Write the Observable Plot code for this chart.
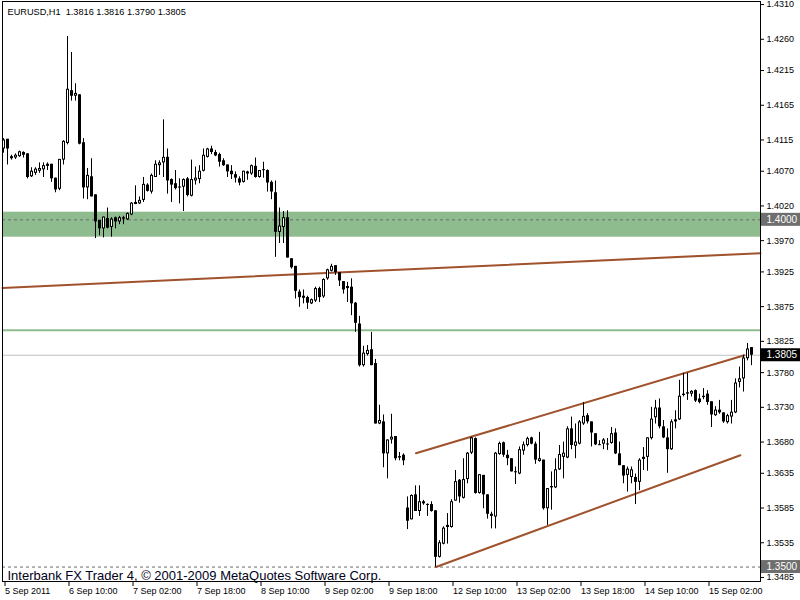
<!DOCTYPE html>
<html>
<head>
<meta charset="utf-8">
<script src="https://cdn.jsdelivr.net/npm/d3@7"></script>
<script src="https://cdn.jsdelivr.net/npm/@observablehq/plot@0.6"></script>
<style>
  html, body { margin: 0; padding: 0; background: #ffffff; }
  #chart { width: 800px; height: 600px; }
</style>
</head>
<body>
<div id="chart"></div>
<script>
// ---------- data (EURUSD H1) ----------
const symbol = "EURUSD,H1";
const copyright = "Interbank FX Trader 4, \u00A9 2001-2009 MetaQuotes Software Corp.";

const open = [
1.4102,1.4116,1.4091,1.4089,1.4091,1.4097,1.4095,1.4062,1.4067,1.4070,
1.4072,1.4080,1.4080,1.4060,1.4044,1.4086,1.4110,1.4186,1.4178,1.4180,
1.4111,1.4046,1.4062,1.4036,1.3999,1.3987,1.4002,1.3989,1.4003,1.3997,
1.4003,1.4000,1.4007,1.4022,1.4023,1.4028,1.4050,1.4040,1.4061,1.4078,
1.4082,1.4090,1.4058,1.4052,1.4047,1.4047,1.4059,1.4034,1.4056,1.4058,
1.4070,1.4090,1.4102,1.4097,1.4094,1.4085,1.4079,1.4070,1.4065,1.4059,
1.4054,1.4066,1.4066,1.4077,1.4061,1.4072,1.4071,1.4054,1.4039,1.3982,
1.3989,1.4003,1.3944,1.3933,1.3896,1.3890,1.3888,1.3879,1.3883,1.3901,
1.3889,1.3915,1.3926,1.3934,1.3924,1.3911,1.3901,1.3903,1.3880,1.3850,
1.3790,1.3806,1.3813,1.3793,1.3706,1.3709,1.3663,1.3683,1.3688,1.3659,
1.3661,1.3585,1.3568,1.3604,1.3580,1.3594,1.3590,1.3590,1.3581,1.3514,
1.3533,1.3557,1.3557,1.3595,1.3625,1.3599,1.3626,1.3664,1.3685,1.3606,
1.3632,1.3604,1.3576,1.3572,1.3662,1.3679,1.3661,1.3656,1.3637,1.3634,
1.3667,1.3675,1.3686,1.3677,1.3652,1.3654,1.3584,1.3614,1.3614,1.3640,
1.3658,1.3657,1.3699,1.3674,1.3677,1.3706,1.3718,1.3709,1.3692,1.3676,
1.3677,1.3677,1.3678,1.3693,1.3663,1.3646,1.3632,1.3629,1.3629,1.3622,
1.3655,1.3658,1.3685,1.3715,1.3729,1.3702,1.3686,1.3669,1.3709,1.3712,
1.3747,1.3751,1.3749,1.3754,1.3742,1.3746,1.3749,1.3738,1.3718,1.3726,
1.3722,1.3708,1.3716,1.3722,1.3766,1.3771,1.3800,1.3816];

const high = [
1.4117,1.4116,1.4093,1.4095,1.4099,1.4098,1.4095,1.4075,1.4075,1.4082,
1.4082,1.4082,1.4080,1.4060,1.4087,1.4114,1.4264,1.4241,1.4196,1.4180,
1.4117,1.4074,1.4088,1.4036,1.3999,1.4004,1.4017,1.4003,1.4004,1.4005,
1.4005,1.4010,1.4025,1.4049,1.4033,1.4061,1.4052,1.4066,1.4085,1.4085,
1.4144,1.4102,1.4059,1.4071,1.4059,1.4059,1.4061,1.4086,1.4076,1.4078,
1.4102,1.4103,1.4106,1.4100,1.4096,1.4088,1.4079,1.4078,1.4069,1.4062,
1.4070,1.4070,1.4079,1.4089,1.4071,1.4083,1.4072,1.4056,1.4056,1.4017,
1.4012,1.4013,1.3944,1.3933,1.3899,1.3899,1.3890,1.3886,1.3903,1.3903,
1.3915,1.3929,1.3936,1.3934,1.3924,1.3911,1.3910,1.3915,1.3881,1.3861,
1.3818,1.3819,1.3838,1.3799,1.3733,1.3719,1.3683,1.3720,1.3688,1.3665,
1.3663,1.3601,1.3604,1.3617,1.3617,1.3596,1.3591,1.3594,1.3581,1.3538,
1.3558,1.3577,1.3597,1.3639,1.3626,1.3656,1.3665,1.3687,1.3686,1.3633,
1.3632,1.3604,1.3579,1.3665,1.3680,1.3680,1.3668,1.3656,1.3644,1.3673,
1.3680,1.3687,1.3687,1.3680,1.3694,1.3654,1.3613,1.3637,1.3656,1.3675,
1.3680,1.3702,1.3716,1.3706,1.3711,1.3737,1.3721,1.3709,1.3692,1.3682,
1.3685,1.3685,1.3701,1.3699,1.3680,1.3646,1.3644,1.3644,1.3634,1.3656,
1.3672,1.3686,1.3730,1.3740,1.3742,1.3711,1.3699,1.3712,1.3725,1.3769,
1.3779,1.3779,1.3754,1.3755,1.3749,1.3757,1.3754,1.3738,1.3731,1.3740,
1.3722,1.3720,1.3740,1.3771,1.3788,1.3805,1.3822,1.3816];

const low = [
1.4096,1.4079,1.4086,1.4087,1.4090,1.4089,1.4059,1.4061,1.4064,1.4067,
1.4061,1.4071,1.4054,1.4039,1.4042,1.4079,1.4108,1.4171,1.4171,1.4108,
1.4030,1.4029,1.4033,1.3973,1.3977,1.3974,1.3987,1.3975,1.3987,1.3993,
1.3993,1.3999,1.4006,1.4022,1.4022,1.4025,1.4040,1.4037,1.4061,1.4064,
1.4061,1.4037,1.4025,1.4043,1.4023,1.4012,1.4033,1.4033,1.4050,1.4052,
1.4069,1.4089,1.4094,1.4091,1.4076,1.4077,1.4061,1.4058,1.4053,1.4049,
1.4053,1.4057,1.4064,1.4060,1.4060,1.4060,1.4040,1.4029,1.3946,1.3966,
1.3966,1.3945,1.3929,1.3886,1.3874,1.3879,1.3871,1.3878,1.3881,1.3881,
1.3887,1.3913,1.3925,1.3920,1.3904,1.3893,1.3881,1.3862,1.3838,1.3788,
1.3788,1.3804,1.3790,1.3706,1.3705,1.3643,1.3627,1.3677,1.3653,1.3653,
1.3646,1.3554,1.3568,1.3580,1.3573,1.3589,1.3573,1.3579,1.3500,1.3513,
1.3532,1.3533,1.3556,1.3595,1.3592,1.3598,1.3620,1.3662,1.3605,1.3605,
1.3584,1.3569,1.3555,1.3555,1.3661,1.3658,1.3646,1.3637,1.3619,1.3633,
1.3661,1.3673,1.3676,1.3648,1.3651,1.3582,1.3560,1.3582,1.3613,1.3639,
1.3627,1.3656,1.3669,1.3656,1.3676,1.3704,1.3706,1.3673,1.3675,1.3675,
1.3669,1.3668,1.3677,1.3662,1.3646,1.3620,1.3608,1.3620,1.3590,1.3610,
1.3639,1.3638,1.3683,1.3706,1.3699,1.3685,1.3635,1.3668,1.3699,1.3711,
1.3745,1.3740,1.3745,1.3737,1.3735,1.3741,1.3733,1.3701,1.3717,1.3720,
1.3707,1.3706,1.3706,1.3721,1.3758,1.3752,1.3797,1.3790];

const close = [
1.4115,1.4102,1.4088,1.4093,1.4098,1.4093,1.4061,1.4070,1.4073,1.4074,
1.4078,1.4077,1.4059,1.4043,1.4087,1.4113,1.4188,1.4178,1.4182,1.4109,
1.4046,1.4064,1.4033,1.3997,1.3987,1.4004,1.3988,1.4001,1.3997,1.4003,
1.4001,1.4009,1.4024,1.4025,1.4028,1.4051,1.4041,1.4064,1.4080,1.4082,
1.4090,1.4056,1.4050,1.4045,1.4046,1.4058,1.4035,1.4058,1.4060,1.4070,
1.4093,1.4102,1.4097,1.4092,1.4083,1.4078,1.4069,1.4065,1.4060,1.4053,
1.4070,1.4069,1.4078,1.4061,1.4071,1.4071,1.4053,1.4040,1.3982,1.3991,
1.4003,1.3945,1.3931,1.3897,1.3888,1.3887,1.3880,1.3885,1.3901,1.3888,
1.3914,1.3928,1.3933,1.3924,1.3912,1.3899,1.3904,1.3879,1.3851,1.3790,
1.3808,1.3812,1.3790,1.3706,1.3711,1.3663,1.3683,1.3687,1.3656,1.3657,
1.3653,1.3566,1.3603,1.3580,1.3594,1.3591,1.3589,1.3580,1.3514,1.3535,
1.3556,1.3560,1.3594,1.3623,1.3601,1.3626,1.3664,1.3686,1.3606,1.3633,
1.3604,1.3576,1.3573,1.3664,1.3678,1.3661,1.3656,1.3637,1.3636,1.3669,
1.3676,1.3685,1.3677,1.3654,1.3656,1.3584,1.3613,1.3616,1.3640,1.3662,
1.3664,1.3699,1.3675,1.3680,1.3709,1.3717,1.3709,1.3693,1.3676,1.3675,
1.3683,1.3676,1.3692,1.3663,1.3646,1.3631,1.3641,1.3640,1.3622,1.3654,
1.3658,1.3686,1.3713,1.3729,1.3702,1.3686,1.3669,1.3709,1.3712,1.3746,
1.3749,1.3749,1.3753,1.3739,1.3737,1.3744,1.3737,1.3719,1.3726,1.3722,
1.3709,1.3718,1.3723,1.3765,1.3771,1.3801,1.3814,1.3805];

// time axis: bar index of each labelled bar and its label
const xTickBars = [0, 16, 32, 48, 64, 80, 96, 112, 128, 144, 160, 176];
const xTickLabels = ["5 Sep 2011", "6 Sep 10:00", "7 Sep 02:00", "7 Sep 18:00", "8 Sep 10:00",
  "9 Sep 02:00", "9 Sep 18:00", "12 Sep 10:00", "13 Sep 02:00", "13 Sep 18:00",
  "14 Sep 10:00", "15 Sep 02:00"];

// price axis labels
const yTicks = [1.4310, 1.4260, 1.4215, 1.4165, 1.4115, 1.4070, 1.4020, 1.3970, 1.3925,
  1.3875, 1.3825, 1.3780, 1.3730, 1.3680, 1.3635, 1.3585, 1.3535, 1.3485];

// chart objects
const zoneLow = 1.3975, zoneHigh = 1.4011;          // green zone
const dashedLevels = [1.4000, 1.3500];               // dashed horizontal lines
const greenLevel = 1.3841;                           // thin green line
const bidLevel = 1.3805;                             // bid line
const trendBars  = [-0.375, 189.125];
const trendPrice = [1.3902, 1.3952];
const upperBars  = [103, 185.1];
const upperPrice = [1.3664, 1.3805];
const lowerBars  = [108, 184.1];
const lowerPrice = [1.3500, 1.3661];
const tagPrices = [1.4000, 1.3805, 1.3500];
const tagColors = ["#6e6e6e", "#000000", "#6e6e6e"];

// ---------- build ----------
const xDomain = [-0.375, 189.125];          // 4 px per bar, bar centres on pixel centres
const yDomain = [1.34792, 1.43144];
const pxPrice = (yDomain[1] - yDomain[0]) / 580;   // price per pixel
const pxBar = 0.25;                                 // bar units per pixel

const candles = open.map((o, i) => {
  const c = close[i];
  let top = Math.max(o, c), bot = Math.min(o, c);
  if (top - bot < pxPrice) { const m = (top + bot) / 2; top = m + pxPrice / 2; bot = m - pxPrice / 2; }
  return {i, o, h: high[i], l: low[i], c, top, bot, up: c >= o};
});
const hollow = candles.filter(d => d.up && (d.top - d.bot) > 2.2 * pxPrice);
const pts = (bars, prices) => bars.map((b, k) => ({i: b, p: prices[k]}));
const last = candles.length - 1;
const header = `${symbol}  ${open[last].toFixed(4)} ${high[last].toFixed(4)} ${low[last].toFixed(4)} ${close[last].toFixed(4)}`;
const tags = tagPrices.map((p, k) => ({p, fill: tagColors[k]}));
const brown = "#a0522d";

const chart = Plot.plot({
  width: 800,
  height: 600,
  marginLeft: 2,
  marginRight: 40,
  marginTop: 1,
  marginBottom: 19,
  style: {fontFamily: "'Liberation Sans', Arial, sans-serif", background: "#ffffff", color: "#000"},
  x: {domain: xDomain, axis: null},
  y: {domain: yDomain, axis: null},
  color: {type: "identity"},
  marks: [
    Plot.rect([{lo: zoneLow, hi: zoneHigh}], {y1: "lo", y2: "hi", fill: "#8fbc8f"}),
    Plot.ruleY(dashedLevels, {stroke: "#6a6a6a", strokeDasharray: "3,3"}),
    Plot.ruleY([greenLevel], {stroke: "#8fbc8f", strokeWidth: 2}),
    Plot.ruleY([bidLevel], {stroke: "#c0c0c0"}),
    Plot.line(pts(trendBars, trendPrice), {x: "i", y: "p", stroke: brown, strokeWidth: 2}),
    Plot.line(pts(upperBars, upperPrice), {x: "i", y: "p", stroke: brown, strokeWidth: 2}),
    Plot.line(pts(lowerBars, lowerPrice), {x: "i", y: "p", stroke: brown, strokeWidth: 2}),
    // wicks (1 px)
    Plot.rect(candles, {x1: d => d.i - pxBar / 2, x2: d => d.i + pxBar / 2, y1: "l", y2: "h", fill: "#000"}),
    // bodies (3 px), hollow inside for up candles
    Plot.rect(candles, {x1: d => d.i - 1.5 * pxBar, x2: d => d.i + 1.5 * pxBar, y1: "bot", y2: "top", fill: "#000"}),
    Plot.rect(hollow, {x1: d => d.i - pxBar / 2, x2: d => d.i + pxBar / 2, y1: "bot", y2: "top", insetTop: 1, insetBottom: 1, fill: "#fff"}),
    Plot.text([header], {frameAnchor: "top-left", dx: 5, dy: 10.5, textAnchor: "start", lineAnchor: "middle", fontSize: 9.2, fill: "#000"}),
    Plot.text([copyright], {frameAnchor: "bottom-left", dx: 5, dy: -5.5, textAnchor: "start", lineAnchor: "middle", fontSize: 13, fill: "#000018"}),
    Plot.frame({stroke: "#000"}),
    Plot.axisY(yTicks, {anchor: "right", tickSize: 3, tickPadding: 3, tickFormat: d => d.toFixed(4), fontSize: 9, label: null}),
    Plot.axisX(xTickBars, {anchor: "bottom", tickSize: 5, tickPadding: 1, tickFormat: d => xTickLabels[xTickBars.indexOf(d)], textAnchor: "start", dx: 1, fontSize: 9, label: null}),
    Plot.rect(tags, {x1: xDomain[1] + pxBar, x2: xDomain[1] + 40 * pxBar, y1: d => d.p - 6.5 * pxPrice, y2: d => d.p + 6.5 * pxPrice, fill: "fill"}),
    Plot.text(tags, {x: xDomain[1] + 6 * pxBar, y: "p", text: d => d.p.toFixed(4), textAnchor: "start", lineAnchor: "middle", fontSize: 10, fill: "#fff"})
  ]
});
document.getElementById("chart").appendChild(chart);
</script>
</body>
</html>
